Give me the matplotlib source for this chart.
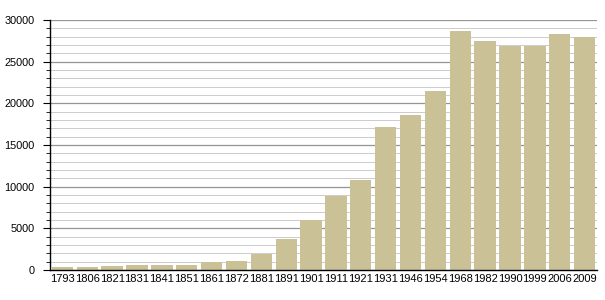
import matplotlib.pyplot as plt
from matplotlib.ticker import MultipleLocator

years = ['1793', '1806', '1821', '1831', '1841', '1851', '1861', '1872', '1881',
         '1891', '1901', '1911', '1921', '1931', '1946', '1954', '1968', '1982',
         '1990', '1999', '2006', '2009']
population = [360, 370, 480, 600, 610, 600, 960, 1080, 1920, 3720, 6000, 8880,
              10800, 17160, 18600, 21480, 28680, 27480, 26880, 26880, 28320, 27960]

plt.rcParams['font.family'] = ['Liberation Sans', 'DejaVu Sans']

fig = plt.figure(figsize=(6.05, 3.0), dpi=100)
ax = fig.add_axes([50 / 605, 30 / 300, 547 / 605, 250 / 300])

x = range(len(years))
ax.bar(x, population, width=0.86, color='#cbc197', zorder=2)

ax.set_xlim(-0.5, len(years) - 0.5)
ax.set_ylim(0, 30000)
ax.set_xticks(list(x))
ax.set_xticklabels(years, fontsize=8)
ax.tick_params(axis='x', length=0, pad=3)

ax.yaxis.set_major_locator(MultipleLocator(5000))
ax.yaxis.set_minor_locator(MultipleLocator(1000))
ax.tick_params(axis='y', which='major', length=5, width=0.8, labelsize=7.8, pad=6)
ax.tick_params(axis='y', which='minor', length=3, width=0.6)
ax.grid(axis='y', which='major', color='#959595', linewidth=0.9, zorder=0)
ax.grid(axis='y', which='minor', color='#cccccc', linewidth=0.7, zorder=0)

for side in ['top', 'right']:
    ax.spines[side].set_visible(False)
ax.spines['left'].set_linewidth(1.0)
ax.spines['bottom'].set_linewidth(1.0)
ax.spines['bottom'].set_zorder(3)

fig.savefig('out.png', dpi=100)
